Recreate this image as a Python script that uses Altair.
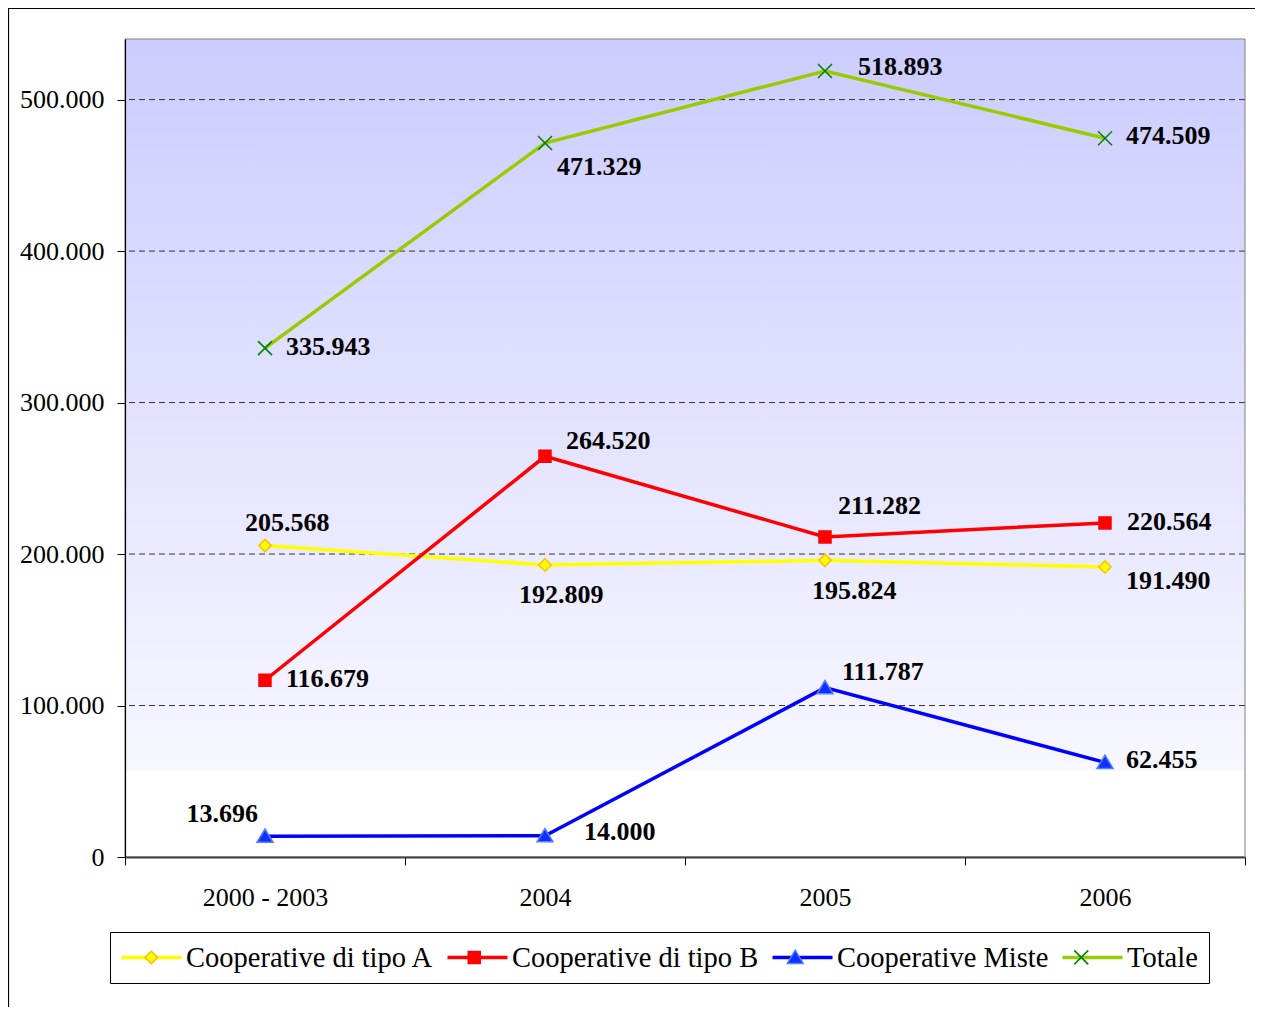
import altair as alt
import pandas as pd

# ---------------- data ----------------
CATEGORIES = ["2000 - 2003", "2004", "2005", "2006"]
SERIES = ["Cooperative di tipo A", "Cooperative di tipo B", "Cooperative Miste", "Totale"]
CODES = ["A", "B", "M", "T"]
TIPO_A = [205568, 192809, 195824, 191490]
TIPO_B = [116679, 264520, 211282, 220564]
MISTE = [13696, 14000, 111787, 62455]
TOTALE = [335943, 471329, 518893, 474509]
Y_TICKS = [0, 100000, 200000, 300000, 400000, 500000]
Y_MAX = 540000

# ---------------- styles ----------------
LINE_COLORS = ["#FFFF00", "#FF0000", "#0000FF", "#99CC00"]
MARK_FILLS = ["#FFFF00", "#FF0000", "#1030FF", "#008000"]
MARK_STROKES = ["#FFC000", "#FF0000", "#5080FF", "#008000"]
PRE = "M-2.46,0M2.46,0"
MARK_PATHS = [
    PRE + "M0,-0.5L0.5,0L0,0.5L-0.5,0Z",
    PRE + "M-0.48,-0.48L0.48,-0.48L0.48,0.48L-0.48,0.48Z",
    PRE + "M0,-0.58L0.64,0.48L-0.64,0.48Z",
    PRE + "M-0.56,-0.56L0.56,0.56M-0.56,0.56L0.56,-0.56",
]
LINE_SYMBOL = "M-2.4,0H2.4"
FONT = "Liberation Serif"

# label placement: (align, dx, dy)
LABEL_STYLE = {
    ("T", "2000 - 2003"): ("left", 21, -1),
    ("T", "2004"): ("left", 12, 24),
    ("T", "2005"): ("left", 33, -4),
    ("T", "2006"): ("left", 21, -2),
    ("B", "2000 - 2003"): ("left", 21, -1),
    ("B", "2004"): ("left", 21, -15),
    ("B", "2005"): ("left", 13, -31),
    ("B", "2006"): ("left", 22, -1),
    ("A", "2000 - 2003"): ("left", -20, -23),
    ("A", "2004"): ("left", -26, 30),
    ("A", "2005"): ("left", -13, 31),
    ("A", "2006"): ("left", 21, 14),
    ("M", "2000 - 2003"): ("right", -7, -22),
    ("M", "2004"): ("left", 39, -4),
    ("M", "2005"): ("left", 17, -16),
    ("M", "2006"): ("left", 21, -2),
}

W, H = 1120, 818

rows = []
for name, code, vals in zip(SERIES, CODES, [TIPO_A, TIPO_B, MISTE, TOTALE]):
    for cat, v in zip(CATEGORIES, vals):
        rows.append({"series": name, "code": code, "cat": cat, "value": v,
                     "label": f"{v:,}".replace(",", ".")})
df = pd.DataFrame(rows)
grid_df = pd.DataFrame({"v": Y_TICKS[1:]})
one = pd.DataFrame({"z": [0]})

yscale = alt.Scale(domain=[0, Y_MAX], nice=False, zero=True)
xscale = alt.Scale(type="band", domain=CATEGORIES, paddingInner=0, paddingOuter=0)

yaxis = alt.Axis(title=None, values=Y_TICKS, grid=False, zindex=1,
                 labelExpr="replace(format(datum.value, ','), ',', '.')",
                 tickSize=8, tickColor="black", domainColor="black", domainWidth=1.2,
                 labelFont=FONT, labelFontSize=26, labelColor="black", labelPadding=13)
xaxis = alt.Axis(title=None, grid=False, zindex=1, labelAngle=0, tickBand="extent",
                 tickSize=8, tickColor="black", domainColor="#404040", domainWidth=2,
                 labelFont=FONT, labelFontSize=26, labelColor="black", labelPadding=19)

X = alt.X("cat:N", sort=CATEGORIES, scale=xscale, bandPosition=0.5, axis=xaxis)
Y = alt.Y("value:Q", scale=yscale, axis=yaxis)

gradient = alt.Gradient(
    gradient="linear", x1=0, x2=0, y1=0, y2=1,
    stops=[alt.GradientStop(offset=0, color="#CCCCFF"),
           alt.GradientStop(offset=0.893, color="#F7F7FF"),
           alt.GradientStop(offset=0.896, color="#FFFFFF"),
           alt.GradientStop(offset=1, color="#FFFFFF")])

bg = alt.Chart(one).mark_rect(fill=gradient).encode(
    x=alt.value(0), x2=alt.value(W), y=alt.value(0), y2=alt.value(H))
border = alt.Chart(one).mark_rect(fill="transparent", stroke="#808080", strokeWidth=1).encode(
    x=alt.value(0), x2=alt.value(W), y=alt.value(0), y2=alt.value(H))
frame = alt.Chart(one).mark_rect(fill="transparent", stroke="black", strokeWidth=1.2).encode(
    x=alt.value(-116.5), x2=alt.value(1160), y=alt.value(-30.5), y2=alt.value(1010))

grid = alt.Chart(grid_df).mark_rule(stroke="#333333", strokeWidth=1, strokeDash=[6, 4]).encode(
    y=alt.Y("v:Q", scale=yscale, axis=yaxis))

legend_common = dict(orient="none", legendX=-15, legendY=893, direction="horizontal",
                     title=None, symbolSize=625, symbolOffset=16, labelOffset=20,
                     labelFont=FONT, labelFontSize=28.5, labelLimit=600,
                     columnPadding=6, padding=11)

L1 = alt.Legend(symbolType=LINE_SYMBOL, symbolStrokeWidth=3.5, labelColor="black",
                strokeColor="black", fillColor="white", **legend_common)

label_expr = " : ".join(f"datum.value == '{c}' ? '{n}'" for c, n in zip(CODES, SERIES)) + " : ''"
L2 = alt.Legend(symbolStrokeWidth=1.5, labelColor="rgba(0,0,0,0)", labelExpr=label_expr,
                **legend_common)

lines = alt.Chart(df).mark_line(strokeWidth=3.5).encode(
    x=X, y=Y,
    color=alt.Color("series:N", scale=alt.Scale(domain=SERIES, range=LINE_COLORS), legend=L1),
)

points = alt.Chart(df).mark_point(filled=True, opacity=1, size=625, strokeWidth=1.5).encode(
    x=X, y=Y,
    fill=alt.Fill("code:N", scale=alt.Scale(domain=CODES, range=MARK_FILLS), legend=L2),
    stroke=alt.Stroke("code:N", scale=alt.Scale(domain=CODES, range=MARK_STROKES), legend=L2),
    shape=alt.Shape("code:N", scale=alt.Scale(domain=CODES, range=MARK_PATHS), legend=L2),
)

texts = []
for (code, cat), (align, dx, dy) in LABEL_STYLE.items():
    texts.append(
        alt.Chart(df).transform_filter(f"datum.code == '{code}' && datum.cat == '{cat}'")
        .mark_text(font=FONT, fontSize=26, fontWeight="bold", color="black",
                   align=align, baseline="middle", dx=dx, dy=dy)
        .encode(x=X, y=Y, text="label:N")
    )

chart = alt.layer(bg, grid, border, frame, lines, points, *texts).properties(
    width=W, height=H,
    autosize=alt.AutoSizeParams(type="none"),
    padding={"left": 117, "top": 31, "right": 10, "bottom": 150},
).configure_view(stroke=None)

chart.save("out.html", embed_options={"renderer": "svg", "actions": False})
